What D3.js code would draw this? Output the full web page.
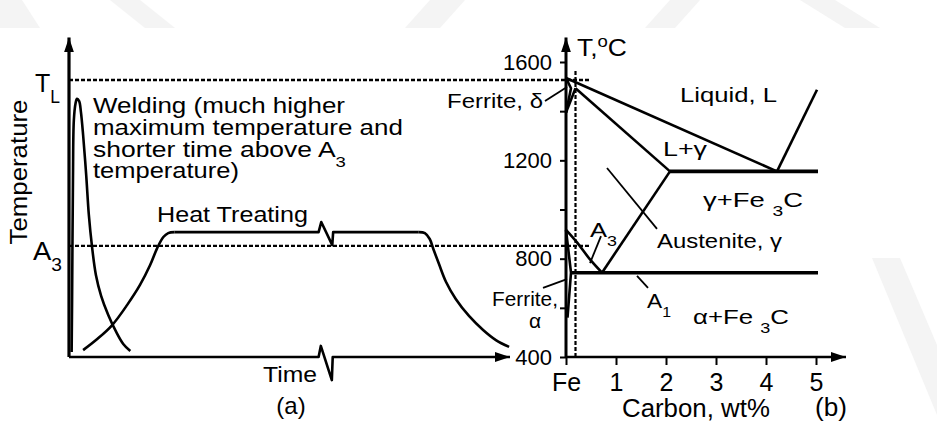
<!DOCTYPE html>
<html>
<head>
<meta charset="utf-8">
<script src="https://cdn.jsdelivr.net/npm/d3@7"></script>
<style>
  body { margin: 0; background: #fff; }
  svg text { font-family: "Liberation Sans", Arial, Helvetica, sans-serif; fill: #000; white-space: pre; }
</style>
</head>
<body>
<svg id="chart" width="937" height="424"></svg>
<script>
// ---- values ----
// (a) thermal cycles: time in arbitrary units (0-100), temperature in °C (same scale as b)
const weldingCycle = [[0.6,420],[0.7,632],[0.9,1120],[1.1,1364],[1.5,1433],[1.8,1450],[2.3,1441],[2.7,1397],
  [3.2,1303],[3.9,1140],[4.5,978],[5.2,852],[6.1,734],[7.3,648],[8.9,571],[10.7,502],[12.3,453],[13.9,424]];
const heatUp = [[3.2,428],[6.4,473],[9.8,530],[13.2,612],[16.1,693],[18.4,774],[20.0,843],[21.4,888],[22.5,904],[23.9,908]];
const heatHold = [[23.9,908],[56.6,908],[57.2,949],[59.7,855],[59.9,908],[79.3,908]];
const heatDown = [[79.3,908],[80.7,904],[81.8,880],[82.7,835],[83.9,778],[85.5,705],[87.7,636],[90.7,567],[93.9,510],[96.8,469],[99.8,441]];
const timeAxisLine = [[0,400],[56.6,400],[57.1,445],[59.6,306],[59.8,400],[100,400]];

const tLiq = 1527;     // T_L dashed line
const tA3 = 852;       // A3 dashed line
const tTop = 1700;     // top of the temperature axes

// (b) Fe-C diagram: [wt% C, °C]
const liquidus = [[0,1535],[4.22,1155]];
const cementiteLiquidus = [[4.22,1155],[5.02,1487]];
const eutecticLine = [[2.08,1155],[5.04,1155]];
const solidus = [[0.19,1493],[2.08,1155]];
const acmLine = [[0.72,743],[2.08,1155]];
const a1Line = [[0.1,743],[5.04,743]];
const a3Line = [[0,917],[0.22,866],[0.48,797],[0.72,743]];
const alphaBoundary = [[0,917],[0.1,743],[0.03,560]];
const deltaBoundary = [[0,1535],[0.1,1493],[0,1394]];
const gammaDelta = [[0.19,1493],[0,1394]];
const dashedCarbon = 0.19;
const dashedCarbonTop = 1567;
const dashEndTL = 0.46;
const dashEndA3 = 0.48;

const leaders = [
  [[-0.42,1441],[0.02,1498]],   // Ferrite, δ
  [[-0.46,681],[0.02,717]],     // Ferrite, α
  [[0.48,782],[0.7,892]],       // A3
  [[0.82,1169],[1.82,921]],     // Austenite, γ
  [[1.42,730],[1.64,681]]       // A1
];

const tempTicks = [400,600,800,1000,1200,1400,1600];
const tempLabels = [400,800,1200,1600];
const carbonTicks = [0,1,2,3,4,5];
const carbonLabels = ["Fe","1","2","3","4","5"];

// ---- scales ----
const yT = d3.scaleLinear().domain([400,1600]).range([357,62]);
const xTime = d3.scaleLinear().domain([0,100]).range([69,510]);
const xC = d3.scaleLinear().domain([0,5]).range([566,816]);

const svg = d3.select("#chart");

// faint background watermark
const watermark = [
  [[0,0],[22,0],[40,28],[0,28]],
  [[110,0],[140,0],[175,28],[145,28]],
  [[430,0],[465,0],[440,28],[405,28]],
  [[670,0],[700,0],[675,28],[645,28]],
  [[800,0],[835,0],[880,28],[845,28]],
  [[872,258],[900,258],[937,345],[937,415]]
];
svg.append("g").selectAll("polygon").data(watermark).enter().append("polygon")
  .attr("points", d => d.map(p => p.join(",")).join(" "))
  .attr("fill", "#f4f4f4");

const defs = svg.append("defs");
defs.append("marker").attr("id","arrow")
  .attr("viewBox","0 0 15 10").attr("refX",15).attr("refY",5)
  .attr("markerUnits","userSpaceOnUse").attr("markerWidth",15).attr("markerHeight",10)
  .attr("orient","auto")
  .append("path").attr("d","M0,0L15,5L0,10Z").attr("fill","#000");

const lineTime = d3.line().x(d => xTime(d[0])).y(d => yT(d[1]));
const lineC = d3.line().x(d => xC(d[0])).y(d => yT(d[1]));
const smoothTime = d3.line().x(d => xTime(d[0])).y(d => yT(d[1])).curve(d3.curveCatmullRom.alpha(0.5));
const smoothC = d3.line().x(d => xC(d[0])).y(d => yT(d[1])).curve(d3.curveCatmullRom.alpha(0.5));

function stroke(path, w) {
  return path.attr("fill","none").attr("stroke","#000").attr("stroke-width",w)
    .attr("stroke-linejoin","round").attr("stroke-linecap","butt");
}

// text helper: plain strings, [subscript] pieces and {sup} pieces, optional target width
function label(x, y, parts, size, width, anchor, rotate) {
  const g = svg.append("g");
  const t = g.append("text").attr("font-size", size).attr("text-anchor", anchor || "start");
  let shift = 0;
  parts.forEach(p => {
    let ts, dy;
    if (Array.isArray(p)) { ts = t.append("tspan").attr("font-size", size * 0.7).text(p[0]); dy = size * 0.45; }
    else if (typeof p === "object") { ts = t.append("tspan").attr("font-size", size * 0.7).text(p.sup); dy = -size * 0.4; }
    else { ts = t.append("tspan").text(p); dy = 0; }
    if (dy - shift !== 0) ts.attr("dy", dy - shift);
    shift = dy;
  });
  let sx = 1;
  if (width) sx = width / t.node().getComputedTextLength();
  g.attr("transform", `translate(${x},${y})` + (rotate ? ` rotate(${rotate})` : "") + ` scale(${sx},1)`);
  return g;
}

// ---- (a) ----
stroke(svg.append("line"), 3.2)
  .attr("x1", xTime(0)).attr("y1", yT(400)).attr("x2", xTime(0)).attr("y2", yT(tTop))
  .attr("marker-end","url(#arrow)");
stroke(svg.append("path").attr("d", lineTime(timeAxisLine)), 2.6)
  .attr("marker-end","url(#arrow)");

// dashed reference lines across both panels
[[tLiq, dashEndTL],[tA3, dashEndA3]].forEach(d => {
  stroke(svg.append("line"), 2.4)
    .attr("x1", xTime(0)).attr("x2", xC(d[1]))
    .attr("y1", yT(d[0])).attr("y2", yT(d[0]))
    .attr("stroke-dasharray","4,2");
});

stroke(svg.append("path").attr("d", smoothTime(weldingCycle)), 2.6);
stroke(svg.append("path").attr("d", smoothTime(heatUp)), 2.6);
stroke(svg.append("path").attr("d", lineTime(heatHold)), 2.6);
stroke(svg.append("path").attr("d", smoothTime(heatDown)), 2.6);

label(35, 92, ["T", ["L"]], 25, 25);
label(33, 260, ["A", ["3"]], 25, 29);
label(27, 172, ["Temperature"], 24, 145, "middle", -90);

label(93, 113, ["Welding (much higher"], 21.5, 252);
label(93, 135, ["maximum temperature and"], 21.5, 310);
label(93, 157, ["shorter time above A", ["3"]], 21.5, 253);
label(93, 178, ["temperature)"], 21.5, 146);
label(157, 222, ["Heat Treating"], 22, 151);
label(263, 382, ["Time"], 22, 54);
label(291, 414, ["(a)"], 24, null, "middle");

// ---- (b) ----
const yAxis = svg.append("g").attr("transform", `translate(${xC(0)},0)`)
  .call(d3.axisLeft(yT).tickValues(tempTicks).tickSize(6).tickPadding(8)
    .tickFormat(d => tempLabels.includes(d) ? d : ""));
yAxis.select(".domain").remove();
yAxis.selectAll(".tick line").attr("stroke","#000").attr("stroke-width",2);
yAxis.selectAll(".tick text").attr("font-size",22).attr("fill","#000").attr("font-family",null);

const xAxis = svg.append("g").attr("transform", `translate(0,${yT(400)})`)
  .call(d3.axisBottom(xC).tickValues(carbonTicks).tickSize(8).tickPadding(8)
    .tickFormat((d, i) => carbonLabels[i]));
xAxis.select(".domain").remove();
xAxis.selectAll(".tick line").attr("stroke","#000").attr("stroke-width",2);
xAxis.selectAll(".tick text").attr("font-size",25).attr("fill","#000").attr("font-family",null);

stroke(svg.append("line"), 3)
  .attr("x1", xC(0)).attr("y1", yT(400)).attr("x2", xC(0)).attr("y2", yT(tTop))
  .attr("marker-end","url(#arrow)");
stroke(svg.append("line"), 2.6)
  .attr("x1", xC(0)).attr("y1", yT(400)).attr("x2", xC(5.6)).attr("y2", yT(400))
  .attr("marker-end","url(#arrow)");

stroke(svg.append("line"), 2.2)
  .attr("x1", xC(dashedCarbon)).attr("x2", xC(dashedCarbon))
  .attr("y1", yT(400)).attr("y2", yT(dashedCarbonTop))
  .attr("stroke-dasharray","4,2");

[liquidus, cementiteLiquidus, solidus, acmLine, deltaBoundary, gammaDelta, alphaBoundary].forEach(d =>
  stroke(svg.append("path").attr("d", lineC(d)), 2.6));
stroke(svg.append("path").attr("d", smoothC(a3Line)), 2.6);
[eutecticLine, a1Line].forEach(d => stroke(svg.append("path").attr("d", lineC(d)), 3.6));
leaders.forEach(d => stroke(svg.append("path").attr("d", lineC(d)), 1.8));

label(577, 56, ["T,", {sup: "o"}, "C"], 23, 50);
label(680, 102, ["Liquid, L"], 21, 97);
label(663, 156, ["L+γ"], 21, 44);
label(703, 207, ["γ+Fe ", ["3"], "C"], 21, 100);
label(657, 248, ["Austenite, γ"], 21, 125);
label(590, 237, ["A", ["3"]], 21, 27);
label(647, 308, ["A", ["1"]], 21, 24);
label(693, 324, ["α+Fe ", ["3"], "C"], 21, 96);
label(543, 108, ["Ferrite, δ"], 21, 96, "end");
label(558, 306, ["Ferrite,"], 21, 66, "end");
label(535, 328, ["α"], 21, null, "middle");
label(622, 417, ["Carbon, wt%"], 25, 148);
label(815, 416, ["(b)"], 25, 32);
</script>
</body>
</html>
